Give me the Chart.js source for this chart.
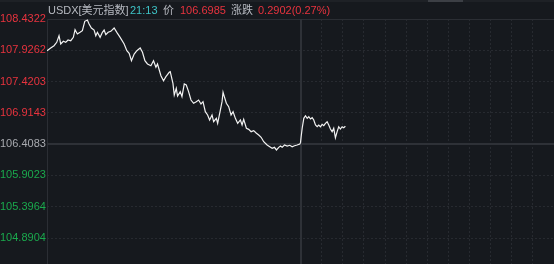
<!DOCTYPE html>
<html>
<head>
<meta charset="utf-8">
<script src="https://cdn.jsdelivr.net/npm/chart.js@4.4.1/dist/chart.umd.min.js"></script>
<style>
    html, body { margin: 0; padding: 0; background: #16191e; overflow: hidden; }
    #wrap { position: relative; width: 554px; height: 264px; }
    #topbar { position: absolute; left: 0; top: 0; width: 554px; height: 2px; background: #1e2126; }
    #tab { position: absolute; left: 428px; top: 0; width: 35px; height: 2px; background: #3c3f45; }
    .hd { position: absolute; top: 3px; font: 11px "Liberation Sans", "Noto Sans CJK SC", sans-serif; line-height: 14px; white-space: nowrap; }
    #myChart { position: absolute; left: 0; top: 0; }
</style>
</head>
<body>
<div id="wrap">
    <canvas id="myChart" width="554" height="264"></canvas>
    <div id="topbar"></div>
    <div id="tab"></div>
    <span class="hd" style="left:48px;color:#b7bac1">USDX[美元指数]</span>
    <span class="hd" style="left:130px;color:#3ec3c6">21:13</span>
    <span class="hd" style="left:163px;color:#b7bac1">价</span>
    <span class="hd" style="left:180px;color:#e8333e">106.6985</span>
    <span class="hd" style="left:231px;color:#b7bac1">涨跌</span>
    <span class="hd" style="left:258px;color:#e8333e">0.2902(0.27%)</span>
</div>
<script>
// previous close, the line everything is coloured against
const prevClose = 106.4083;
const yTicks = [108.4322, 107.9262, 107.4203, 106.9143, 106.4083, 105.9023, 105.3964, 104.8904];

// time in grid slots: 0-12 previous session, 12-24 today (12 dashed slots)
const times = [
    0, 0.175, 0.332, 0.46, 0.569, 0.65, 0.773, 0.887, 0.996, 1.124, 1.247, 1.328, 1.437, 1.565, 1.674, 1.788,
    1.911, 1.992, 2.101, 2.229, 2.31, 2.386, 2.514, 2.623, 2.704, 2.784, 2.893, 3.021, 3.178, 3.306, 3.462, 3.652,
    3.78, 3.889, 3.998, 4.126, 4.254, 4.411, 4.52, 4.634, 4.757, 4.918, 5.042, 5.156, 5.231, 5.393, 5.516, 5.63,
    5.787, 5.834, 5.962, 6.024, 6.119, 6.18, 6.308, 6.389, 6.498, 6.593, 6.702, 6.816, 6.939, 7.067, 7.176, 7.29,
    7.385, 7.494, 7.603, 7.698, 7.812, 7.888, 8.016, 8.078, 8.206, 8.286, 8.334, 8.395, 8.49, 8.6, 8.713, 8.808,
    8.917, 9.026, 9.154, 9.235, 9.311, 9.439, 9.548, 9.662, 9.785, 9.913, 10.022, 10.136, 10.259, 10.42, 10.544, 10.658,
    10.767, 10.862, 10.971, 11.051, 11.132, 11.241, 11.369, 11.493, 11.606, 11.715, 11.843, 11.967, 12.0,
    12.03, 12.08, 12.156, 12.236, 12.316, 12.392, 12.472, 12.553, 12.628, 12.709, 12.789, 12.864, 12.945, 13.025,
    13.101, 13.181, 13.261, 13.337, 13.417, 13.497, 13.573, 13.653, 13.734, 13.809, 13.889, 13.97, 14.045, 14.125
];
const prices = [
    107.920, 107.963, 108.000, 108.055, 108.162, 108.028, 108.072, 108.055, 108.093, 108.081, 108.136, 108.259, 108.190, 108.217, 108.243, 108.395,
    108.416, 108.351, 108.287, 108.254, 108.162, 108.217, 108.136, 108.217, 108.254, 108.178, 108.217, 108.233, 108.287, 108.217, 108.136, 108.028,
    107.920, 107.878, 107.758, 107.866, 107.920, 107.963, 107.894, 107.758, 107.705, 107.677, 107.758, 107.651, 107.705, 107.515, 107.434, 107.499,
    107.570, 107.580, 107.392, 107.203, 107.311, 107.187, 107.257, 107.176, 107.381, 107.365, 107.257, 107.122, 107.069, 107.095, 107.122, 107.058,
    107.095, 106.933, 106.880, 106.799, 106.880, 106.771, 106.826, 106.745, 106.960, 107.095, 107.247, 107.176, 107.069, 107.014, 106.880, 106.933,
    106.826, 106.745, 106.799, 106.718, 106.810, 106.665, 106.648, 106.610, 106.626, 106.584, 106.556, 106.519, 106.448, 106.394, 106.367, 106.341,
    106.357, 106.314, 106.357, 106.378, 106.357, 106.394, 106.378, 106.390, 106.367, 106.383, 106.394, 106.411, 106.432,
    106.529, 106.665, 106.826, 106.868, 106.826, 106.852, 106.815, 106.836, 106.799, 106.718, 106.690, 106.718, 106.690, 106.729,
    106.707, 106.745, 106.771, 106.718, 106.653, 106.610, 106.665, 106.512, 106.610, 106.690, 106.653, 106.690, 106.674, 106.6985
];

const points = times.map((t, i) => ({ x: t, y: prices[i] }));

// solid frame, previous-close line and session split
const framePlugin = {
    id: 'frame',
    beforeDatasetsDraw(chart) {
        const { ctx, chartArea: a, scales: { x, y } } = chart;
        ctx.save();
        ctx.strokeStyle = '#2b2e34';
        ctx.lineWidth = 1;
        ctx.beginPath();
        ctx.moveTo(a.left + 0.5, a.bottom);
        ctx.lineTo(a.left + 0.5, a.top + 0.5);
        ctx.lineTo(a.right, a.top + 0.5);
        ctx.stroke();

        ctx.strokeStyle = '#2e3137';
        ctx.lineWidth = 2;
        const yc = Math.round(y.getPixelForValue(prevClose));
        ctx.beginPath();
        ctx.moveTo(a.left, yc);
        ctx.lineTo(a.right, yc);
        const xs = Math.round(x.getPixelForValue(12));
        ctx.moveTo(xs, a.top);
        ctx.lineTo(xs, a.bottom);
        ctx.stroke();
        ctx.restore();
    }
};

const ctx = document.getElementById('myChart').getContext('2d');
const myChart = new Chart(ctx, {
    type: 'line',
    data: {
        datasets: [{
            data: points,
            borderColor: '#f2f2f2',
            borderWidth: 1.2,
            pointRadius: 0,
            tension: 0,
            fill: false
        }]
    },
    options: {
        responsive: false,
        animation: false,
        events: [],
        layout: { padding: { top: 19, left: 0, right: 0, bottom: 0 } },
        plugins: {
            legend: { display: false },
            tooltip: { enabled: false }
        },
        scales: {
            x: {
                type: 'linear',
                min: 0,
                max: 24,
                afterBuildTicks: (scale) => {
                    scale.ticks = Array.from({ length: 25 }, (_, i) => ({ value: i }));
                },
                afterFit: (scale) => {
                    scale.height = 0;
                    scale.paddingLeft = 0;
                    scale.paddingRight = 0;
                },
                ticks: { display: false },
                grid: {
                    drawTicks: false,
                    lineWidth: 1,
                    color: (c) => (c.tick && c.tick.value > 12 && c.tick.value < 24) ? '#272a30' : 'rgba(0,0,0,0)'
                },
                border: { display: false, dash: [2, 2] }
            },
            y: {
                min: 104.4702,
                max: 108.4322,
                afterBuildTicks: (scale) => {
                    scale.ticks = yTicks.map(v => ({ value: v }));
                },
                afterFit: (scale) => {
                    scale.width = 47;
                    scale.paddingTop = 0;
                    scale.paddingBottom = 0;
                },
                ticks: {
                    crossAlign: 'far',
                    padding: 0,
                    autoSkip: false,
                    font: { family: '"Liberation Sans", Arial, sans-serif', size: 11 },
                    color: (c) => {
                        const v = c.tick.value;
                        if (Math.abs(v - prevClose) < 0.0001) return '#a9abb0';
                        return v > prevClose ? '#e8333e' : '#1aa94d';
                    },
                    callback: (v) => v.toFixed(4)
                },
                grid: {
                    drawTicks: false,
                    lineWidth: 1,
                    color: (c) => {
                        const v = c.tick ? c.tick.value : 0;
                        if (Math.abs(v - prevClose) < 0.0001 || Math.abs(v - yTicks[0]) < 0.0001) return 'rgba(0,0,0,0)';
                        return '#272a30';
                    }
                },
                border: { display: false, dash: [2, 2] }
            }
        }
    },
    plugins: [framePlugin]
});
</script>
</body>
</html>
